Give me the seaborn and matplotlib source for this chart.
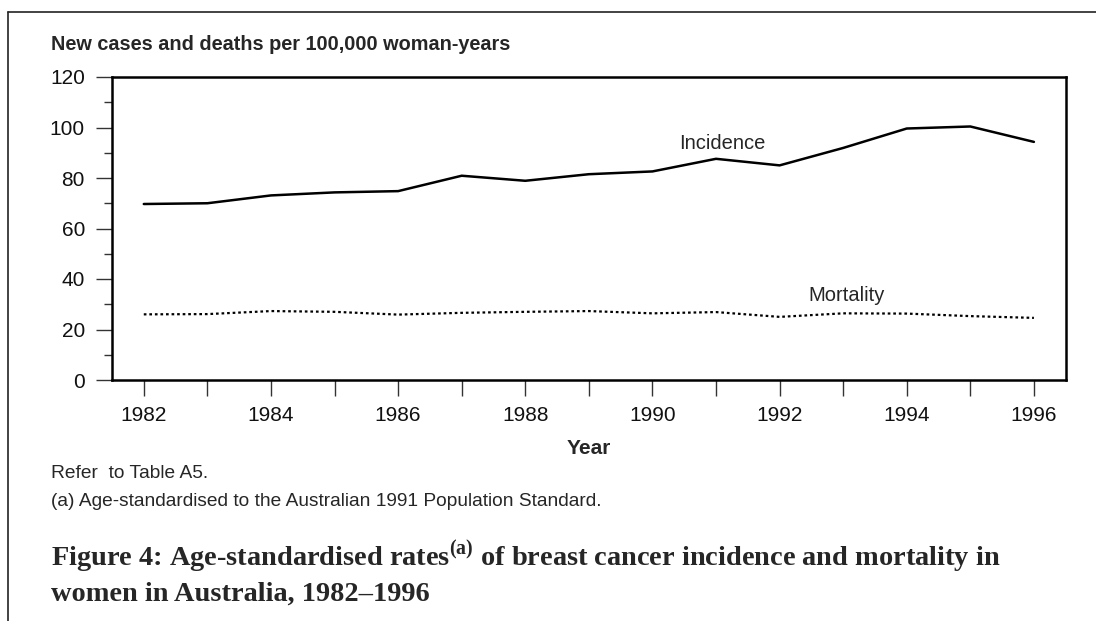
import numpy as np
import pandas as pd
import matplotlib
matplotlib.use("Agg")
import matplotlib.pyplot as plt
import seaborn as sns
from matplotlib.lines import Line2D
from matplotlib.ticker import MultipleLocator

# data
years = list(range(1982, 1997))
incidence = [69.7, 70.0, 73.1, 74.3, 74.8, 80.9, 78.9, 81.5, 82.6, 87.6, 85.0, 91.9, 99.6, 100.4, 94.3]
mortality = [26.0, 26.1, 27.3, 27.0, 25.9, 26.6, 27.0, 27.3, 26.4, 26.9, 25.0, 26.4, 26.3, 25.3, 24.6]

y_title = "New cases and deaths per 100,000 woman-years"
x_title = "Year"
note1 = "Refer  to Table A5."
note2 = "(a) Age-standardised to the Australian 1991 Population Standard."
caption1 = r"Figure 4: Age-standardised rates$^{\mathbf{(a)}}$ of breast cancer incidence and mortality in"
caption2 = "women in Australia, 1982\u20131996"

df = pd.DataFrame({"year": years, "Incidence": incidence, "Mortality": mortality})

sns.set_style("ticks")
plt.rcParams["font.family"] = ["Liberation Sans", "DejaVu Sans"]
plt.rcParams["mathtext.fontset"] = "custom"
plt.rcParams["mathtext.bf"] = "Liberation Serif:bold"
plt.rcParams["mathtext.rm"] = "Liberation Serif"

W, H = 1096, 621
fig = plt.figure(figsize=(W / 100, H / 100), dpi=100)

def fx(x):
    return x / W

def fy(y):
    return 1 - y / H

ax = fig.add_axes([fx(112), fy(380), fx(1065.7) - fx(112), fy(77) - fy(380)])

sns.lineplot(data=df, x="year", y="Incidence", ax=ax, color="black", lw=1.8)
sns.lineplot(data=df, x="year", y="Mortality", ax=ax, color="black", lw=1.6,
             linestyle=(0, (1.2, 1.3)))

ax.set_xlim(1981.5, 1996.5)
ax.set_ylim(0, 120)
ax.yaxis.set_major_locator(MultipleLocator(20))
ax.yaxis.set_minor_locator(MultipleLocator(10))
ax.set_xticks(years)
ax.set_xticklabels([str(y) if y % 2 == 0 else "" for y in years])

for s in ax.spines.values():
    s.set_visible(True)
    s.set_linewidth(1.8)
    s.set_color("black")

ax.tick_params(axis="both", which="major", length=11.5, width=1, color="#333333",
               labelsize=15, labelcolor="#111111")
ax.tick_params(axis="y", which="minor", length=5.8, width=1, color="#333333")
ax.tick_params(axis="y", which="major", pad=8)
ax.tick_params(axis="x", which="major", pad=7)

ax.set_ylabel("")
ax.set_xlabel(x_title, fontweight="bold", fontsize=15, labelpad=10)

ax.text(1991.1, 93.5, "Incidence", ha="center", va="center", fontsize=14.5)
ax.text(1993.05, 33.5, "Mortality", ha="center", va="center", fontsize=14.5)

fig.text(fx(51), fy(45), y_title, ha="left", va="center", fontsize=14.3, fontweight="bold")
fig.text(fx(51), fy(474), note1, ha="left", va="center", fontsize=13.8)
fig.text(fx(51), fy(502), note2, ha="left", va="center", fontsize=13.8)
fig.text(fx(51), fy(557), caption1, ha="left", va="center", fontsize=20.4,
         fontweight="bold", family=["Liberation Serif", "DejaVu Serif"])
fig.text(fx(51), fy(594), caption2, ha="left", va="center", fontsize=20.4,
         fontweight="bold", family=["Liberation Serif", "DejaVu Serif"])

# outer frame lines (top and left)
fig.add_artist(Line2D([fx(8), 1], [fy(12), fy(12)], transform=fig.transFigure,
                      color="#222222", lw=1.2))
fig.add_artist(Line2D([fx(8), fx(8)], [fy(12), 0], transform=fig.transFigure,
                      color="#222222", lw=1.2))

fig.savefig("out.png", dpi=100)
